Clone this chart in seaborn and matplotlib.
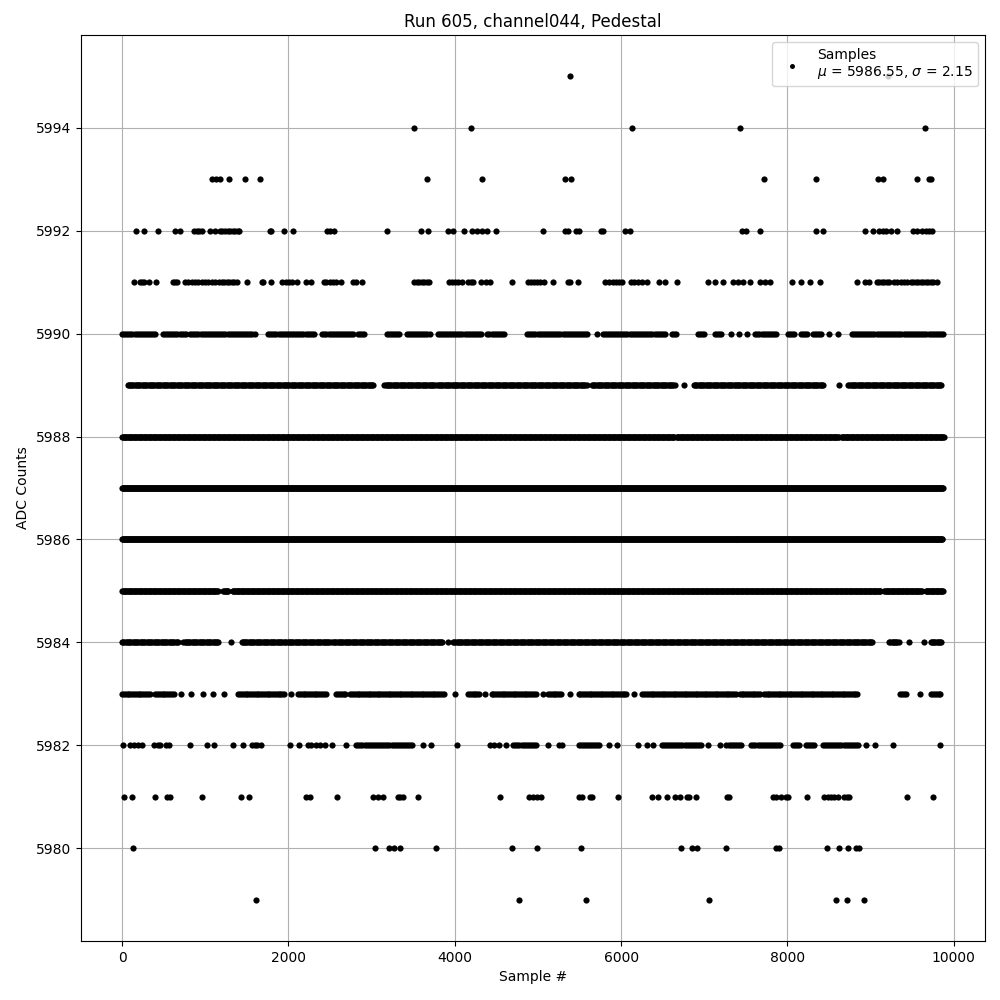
import numpy as np
import pandas as pd
import matplotlib
matplotlib.use("Agg")
import matplotlib.pyplot as plt
import seaborn as sns

RUN = 605
CHANNEL = "channel044"
MU = 5986.55
SIGMA = 2.15

# sparse ADC levels: sample numbers
samples_5995 = [5386, 9204]
samples_5994 = [3506, 4200, 6129, 7435, 9651]
samples_5993 = [1082, 1130, 1182, 1290, 1481, 1661, 3661, 4332, 5330, 5394,
                7722, 8345, 9084, 9155, 9555, 9707, 9731]
samples_5992 = [163, 259, 427, 634, 702, 870, 898, 926, 958, 1062, 1122, 1178,
                1205, 1237, 1269, 1297, 1329, 1357, 1389, 1409, 1776, 1796,
                1948, 2056, 2467, 2495, 2551, 3182, 3597, 3677, 3913, 3984,
                4108, 4204, 4264, 4332, 4392, 4492, 5063, 5330, 5362, 5458,
                5490, 5753, 5785, 6045, 6105, 7459, 7499, 7674, 8345, 8425,
                8932, 9032, 9104, 9144, 9184, 9243, 9323, 9515, 9555, 9623,
                9663, 9703, 9743]
samples_5991 = [139, 211, 239, 267, 319, 403, 610, 638, 666, 758, 798, 838,
                878, 918, 958, 998, 1038, 1078, 1118, 1170, 1197, 1225, 1257,
                1289, 1317, 1345, 1377, 1497, 1677, 1697, 1788, 1928, 1968,
                2008, 2048, 2108, 2208, 2276, 2423, 2455, 2495, 2535, 2567,
                2635, 2775, 2815, 2887, 3513, 3541, 3573, 3605, 3633, 3665,
                3693, 3925, 3965, 4005, 4045, 4085, 4164, 4192, 4224, 4312,
                4372, 4420, 4683, 4883, 4911, 4951, 4991, 5031, 5071, 5179,
                5362, 5390, 5482, 5809, 5857, 5897, 5937, 5977, 6017, 6121,
                6161, 6201, 6249, 6309, 6456, 6528, 6668, 7047, 7135, 7227,
                7347, 7407, 7467, 7554, 7674, 7734, 7794, 8058, 8165, 8273,
                8393, 8836, 8932, 8984, 9072, 9104, 9132, 9164, 9196, 9224,
                9284, 9315, 9371, 9403, 9443, 9483, 9515, 9543, 9571, 9603,
                9631, 9663, 9691, 9723, 9755, 9803]
samples_5982 = [8, 99, 139, 187, 239, 387, 427, 459, 531, 559, 818, 1018, 1106,
                1337, 1457, 1565, 1597, 1625, 1665, 2024, 2128, 2236, 2276,
                2336, 2383, 2435, 2527, 2687, 3621, 3713, 4025, 4420, 4472,
                4532, 4620, 5123, 5258, 5290, 5849, 5949, 6201, 6309, 6388,
                7047, 7187, 8944, 9052, 9271, 9830]
samples_5981 = [27, 119, 391, 539, 571, 966, 1433, 1529, 2216, 2264, 2583,
                3022, 3074, 3134, 3314, 3342, 3374, 3553, 4540, 4891, 4939,
                4991, 5039, 5490, 5530, 5630, 5650, 5969, 6376, 6440, 6548,
                6648, 6708, 6788, 6820, 6899, 7279, 7295, 7826, 7866, 7926,
                7986, 8006, 8237, 8445, 8485, 8525, 8565, 8605, 8684, 8716,
                8744, 9435, 9754]
samples_5980 = [127, 3038, 3206, 3274, 3342, 3769, 4691, 4991, 5518, 6716,
                6848, 6915, 7267, 7866, 7894, 8477, 8621, 8728, 8824, 8864]
samples_5979 = [1613, 4775, 5578, 7063, 8585, 8716, 8920]

# busy ADC levels: occupied sample ranges (start, end) and spacing of samples
runs_5990 = [(0, 419), (491, 778), (818, 1609), (1756, 2315), (2407, 2795),
             (2835, 2934), (3182, 3334), (3422, 3713), (3793, 4332),
             (4392, 4611), (4871, 5602), (5710, 5710), (5777, 6548),
             (6608, 6680), (6927, 7007), (7127, 7207), (7327, 7327),
             (7415, 7415), (7518, 7518), (7614, 7866), (8006, 8085),
             (8165, 8245), (8305, 8425), (8505, 8505), (8605, 8605),
             (8772, 9874)]
runs_5989 = [(67, 3034), (3154, 3773), (3793, 5590), (5650, 6648),
             (6760, 6760), (6876, 8437), (8625, 8625), (8732, 9862)]
runs_5988 = [(0, 6640), (6668, 8625), (8652, 9882)]
runs_5987 = [(0, 9874)]
runs_5986 = [(0, 9870)]
runs_5985 = [(0, 1157), (1217, 1277), (1329, 9124), (9164, 9623), (9663, 9874)]
runs_5984 = [(0, 678), (738, 1170), (1305, 1305), (1437, 1956), (1976, 2515),
             (2535, 3853), (3913, 3913), (3981, 9024), (9224, 9343),
             (9463, 9463), (9643, 9643), (9723, 9850)]
runs_5983 = [(0, 339), (399, 626), (706, 706), (826, 826), (978, 978),
             (1098, 1098), (1225, 1225), (1397, 1956), (2036, 2036),
             (2116, 2447), (2575, 2695), (2743, 3873), (4005, 4005),
             (4160, 4312), (4364, 4364), (4444, 4979), (5059, 5059),
             (5123, 5290), (5390, 5390), (5490, 6081), (6161, 6161),
             (6257, 7387), (7427, 7686), (7718, 8852), (9355, 9423),
             (9595, 9595), (9731, 9850)]
runs_5982 = [(2815, 3513), (4703, 4979), (5490, 5749), (6488, 6967),
             (7267, 7447), (7566, 7926), (8066, 8165), (8225, 8345),
             (8425, 8864)]

sparse = {5995: samples_5995, 5994: samples_5994, 5993: samples_5993,
          5992: samples_5992, 5991: samples_5991, 5982: samples_5982,
          5981: samples_5981, 5980: samples_5980, 5979: samples_5979}
busy = {5990: (runs_5990, 25), 5989: (runs_5989, 14), 5988: (runs_5988, 10),
        5987: (runs_5987, 8), 5986: (runs_5986, 8), 5985: (runs_5985, 10),
        5984: (runs_5984, 14), 5983: (runs_5983, 22), 5982: (runs_5982, 25)}

rows = []
for level, xs in sparse.items():
    rows += [(x, level) for x in xs]
for level, (runs, step) in busy.items():
    for a, b in runs:
        rows += [(x, level) for x in np.arange(a, b + 1, step)]
df = pd.DataFrame(rows, columns=["sample", "adc"]).sort_values("sample")

fig, ax = plt.subplots(figsize=(10, 10), dpi=100)
sns.scatterplot(data=df, x="sample", y="adc", color="black", s=20,
                linewidth=0, ax=ax,
                label=f"Samples\n$\\mu$ = {MU:.2f}, $\\sigma$ = {SIGMA:.2f}")
ax.set_title(f"Run {RUN}, {CHANNEL}, Pedestal")
ax.set_xlabel("Sample #")
ax.set_ylabel("ADC Counts")
ax.grid(True)
ax.set_axisbelow(True)
ax.legend(loc="upper right", markerscale=0.8)
plt.subplots_adjust(left=0.081, right=0.985, top=0.965, bottom=0.059)
plt.savefig("out.png", dpi=100)
plt.close()
